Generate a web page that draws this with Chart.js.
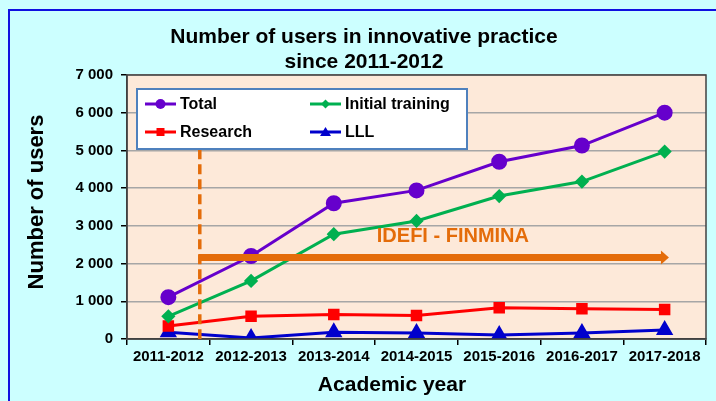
<!DOCTYPE html>
<html>
<head>
<meta charset="utf-8">
<script src="https://cdn.jsdelivr.net/npm/chart.js@4/dist/chart.umd.min.js"></script>
<style>
html,body{margin:0;padding:0;background:#CCFFFF;}
#wrap{width:716px;height:401px;position:relative;}
</style>
</head>
<body>
<div id="wrap"><canvas id="c" width="716" height="401"></canvas></div>
<script>
const categories = ['2011-2012','2012-2013','2013-2014','2014-2015','2015-2016','2016-2017','2017-2018'];
const total = [1110, 2200, 3600, 3940, 4700, 5130, 6000];
const initialTraining = [600, 1540, 2780, 3130, 3790, 4175, 4970];
const research = [347, 605, 650, 623, 829, 802, 783];
const lll = [177, 27, 177, 160, 107, 160, 240];
const yTicks = [0, 1000, 2000, 3000, 4000, 5000, 6000, 7000];
const chartTitle = ['Number of users in innovative practice', 'since 2011-2012'];
const xAxisTitle = 'Academic year';
const yAxisTitle = 'Number of users';
const annotationText = 'IDEFI - FINMINA';
const arrowValue = 2160;

const FONT = 'Arial, "Liberation Sans", sans-serif';

const fmt = v => String(v).replace(/\B(?=(\d{3})+(?!\d))/g, ' ');

const decor = {
  id: 'decor',
  beforeDraw(chart) {
    const ctx = chart.ctx, a = chart.chartArea;
    ctx.save();
    ctx.fillStyle = '#CCFFFF';
    ctx.fillRect(0, 0, chart.width, chart.height);
    ctx.strokeStyle = '#1010E0';
    ctx.lineWidth = 2;
    ctx.beginPath();
    ctx.moveTo(9, chart.height); ctx.lineTo(9, 10); ctx.lineTo(chart.width, 10);
    ctx.stroke();
    ctx.fillStyle = '#FDE9D9';
    ctx.fillRect(a.left, a.top, a.right - a.left, a.bottom - a.top);
    ctx.restore();
  },
  afterDatasetsDraw(chart) {
    const ctx = chart.ctx, a = chart.chartArea;
    const xs = chart.scales.x, ys = chart.scales.y;
    ctx.save();
    ctx.strokeStyle = '#404040';
    ctx.lineWidth = 1.5;
    ctx.strokeRect(a.left, a.top, a.right - a.left, a.bottom - a.top);
    const dx = xs.getPixelForValue(0.38);
    ctx.strokeStyle = '#E46C0A';
    ctx.lineWidth = 3.5;
    ctx.setLineDash([10, 5]);
    ctx.beginPath();
    ctx.moveTo(dx, ys.getPixelForValue(5030));
    ctx.lineTo(dx, a.bottom);
    ctx.stroke();
    ctx.setLineDash([]);
    const ay = ys.getPixelForValue(arrowValue);
    const ax2 = xs.getPixelForValue(6.04);
    ctx.lineWidth = 7;
    ctx.beginPath();
    ctx.moveTo(dx - 1, ay);
    ctx.lineTo(ax2 - 5, ay);
    ctx.stroke();
    ctx.fillStyle = '#E46C0A';
    ctx.beginPath();
    ctx.moveTo(ax2 - 7, ay - 7);
    ctx.lineTo(ax2 + 1, ay);
    ctx.lineTo(ax2 - 7, ay + 7);
    ctx.closePath();
    ctx.fill();
    ctx.font = 'bold 20px ' + FONT;
    ctx.textAlign = 'center';
    ctx.textBaseline = 'middle';
    ctx.fillText(annotationText, xs.getPixelForValue(3.44), ys.getPixelForValue(2710));
    ctx.restore();
  },
  afterDraw(chart) {
    const ctx = chart.ctx;
    ctx.save();
    ctx.fillStyle = '#000';
    ctx.font = 'bold 21px ' + FONT;
    ctx.textAlign = 'center';
    ctx.textBaseline = 'alphabetic';
    ctx.fillText(chartTitle[0], 364, 43);
    ctx.fillText(chartTitle[1], 364, 68);
    ctx.textBaseline = 'middle';
    ctx.fillText(xAxisTitle, 392, 385);
    ctx.save();
    ctx.font = 'bold 22px ' + FONT;
    ctx.translate(37, 202);
    ctx.rotate(-Math.PI / 2);
    ctx.fillText(yAxisTitle, 0, 0);
    ctx.restore();
    // legend
    const bx = 137, by = 89, bw = 330, bh = 60;
    ctx.fillStyle = '#FFFFFF';
    ctx.fillRect(bx, by, bw, bh);
    ctx.strokeStyle = '#4F81BD';
    ctx.lineWidth = 2;
    ctx.strokeRect(bx, by, bw, bh);
    const pos = [[145, 104], [310, 104], [145, 132], [310, 132]];
    ctx.font = 'bold 16px ' + FONT;
    ctx.textAlign = 'left';
    ctx.textBaseline = 'middle';
    chart.data.datasets.forEach((ds, i) => {
      const [lx, ly] = pos[i];
      ctx.strokeStyle = ds.borderColor;
      ctx.lineWidth = 3;
      ctx.beginPath();
      ctx.moveTo(lx, ly); ctx.lineTo(lx + 31, ly);
      ctx.stroke();
      ctx.fillStyle = ds.borderColor;
      const mx = lx + 15.5;
      ctx.beginPath();
      if (ds.pointStyle === 'circle') { ctx.arc(mx, ly, 5, 0, Math.PI * 2); }
      else if (ds.pointStyle === 'rect') { ctx.rect(mx - 4, ly - 4, 8, 8); }
      else if (ds.pointStyle === 'rectRot') { ctx.moveTo(mx, ly - 4.5); ctx.lineTo(mx + 4.5, ly); ctx.lineTo(mx, ly + 4.5); ctx.lineTo(mx - 4.5, ly); ctx.closePath(); }
      else { ctx.moveTo(mx, ly - 5); ctx.lineTo(mx + 5.5, ly + 4); ctx.lineTo(mx - 5.5, ly + 4); ctx.closePath(); }
      ctx.fill();
      ctx.fillStyle = '#000';
      ctx.fillText(ds.label, lx + 35, ly + 1);
    });
    ctx.restore();
  }
};

new Chart(document.getElementById('c'), {
  type: 'line',
  data: {
    labels: categories,
    datasets: [
      { label: 'Total', data: total, borderColor: '#6600CC', backgroundColor: '#6600CC', pointStyle: 'circle', pointRadius: 6.5, borderWidth: 3 },
      { label: 'Initial training', data: initialTraining, borderColor: '#00B050', backgroundColor: '#00B050', pointStyle: 'rectRot', pointRadius: 5, borderWidth: 3 },
      { label: 'Research', data: research, borderColor: '#FF0000', backgroundColor: '#FF0000', pointStyle: 'rect', pointRadius: 6, borderWidth: 3 },
      { label: 'LLL', data: lll, borderColor: '#0000CC', backgroundColor: '#0000CC', pointStyle: 'triangle', pointRadius: 7, borderWidth: 3 }
    ]
  },
  options: {
    responsive: false,
    animation: false,
    devicePixelRatio: 1,
    layout: { padding: { left: 0, right: 9, top: 75, bottom: 0 } },
    plugins: { legend: { display: false }, title: { display: false }, tooltip: { enabled: false } },
    elements: { line: { tension: 0 }, point: { borderWidth: 0 } },
    scales: {
      x: {
        offset: true,
        grid: { offset: true, drawOnChartArea: false, drawTicks: true, tickLength: 6, color: '#000', lineWidth: 1.5 },
        border: { color: '#404040', width: 1.5 },
        ticks: { color: '#000', font: { family: FONT, size: 15, weight: 'bold' }, padding: 3, maxRotation: 0, autoSkip: false },
        afterFit(s) { s.height = 62; }
      },
      y: {
        min: 0, max: 7000,
        afterBuildTicks(s) { s.ticks = yTicks.map(v => ({ value: v })); },
        grid: { color: '#A6A6A6', lineWidth: 1.5, tickLength: 6, tickColor: '#000' },
        border: { color: '#404040', width: 1.5 },
        ticks: { color: '#000', font: { family: FONT, size: 15, weight: 'bold' }, padding: 8, callback: v => fmt(v) },
        afterFit(s) { s.width = 127; }
      }
    }
  },
  plugins: [decor]
});
</script>
</body>
</html>
